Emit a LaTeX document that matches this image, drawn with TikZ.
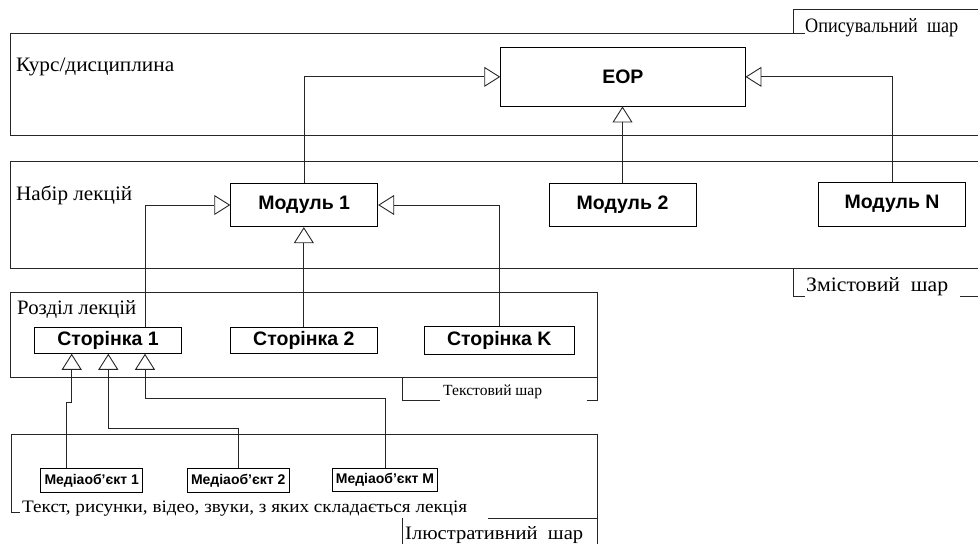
\documentclass[tikz,border=0pt]{standalone}
\usepackage{graphicx}
\usepackage{fontspec}
\setmainfont{Liberation Serif}
\newfontfamily\boxfont{Liberation Sans}
\usetikzlibrary{arrows.meta}
\newcommand{\fitw}[2]{\resizebox{#1}{\height}{#2}}
\tikzset{
  frame/.style={draw=black!85, line width=0.9pt},
  blk/.style={draw=black, line width=0.9pt, inner sep=0pt, font=\boxfont\bfseries\fontsize{19.5}{22}\selectfont},
  medbox/.style={draw=black, line width=0.9pt, inner sep=0pt, font=\boxfont\bfseries\fontsize{14}{16}\selectfont},
  lbl/.style={inner sep=0pt, anchor=base west, font=\fontsize{20.5}{24}\selectfont},
  small/.style={inner sep=0pt, anchor=base west, font=\fontsize{15.5}{18}\selectfont},
  arr/.style={draw=black!85, line width=0.9pt, -{Triangle[open,length=16pt,width=20pt,line width=0.9pt]}},
  con/.style={draw=black!85, line width=0.9pt}
}
\begin{document}
\begin{tikzpicture}[x=1pt,y=-1pt]
\useasboundingbox (0,0) rectangle (978,544);
% layer 1
\draw[frame] (805,33) -- (10,33) -- (10,135) -- (978,135);
\draw[frame] (978,9) -- (793,9) -- (793,33);
\node[lbl] (t1) at (16,71) {\fitw{158pt}{Курс/дисциплина}};
\node[lbl] (d1) at (805,32) {\fitw{153pt}{Описувальний\ \ шар}};
% layer 2
\draw[frame] (978,161.7) -- (10,161.7) -- (10,268.3) -- (978,268.3);
\draw[frame] (793.3,268.3) -- (793.3,296) -- (805,296);
\draw[frame] (960,296) -- (978,296);
\node[lbl] (t2) at (16,200) {\fitw{116pt}{Набір лекцій}};
\node[lbl] (d2) at (806,291.7) {\fitw{142pt}{Змістовий\ \ шар}};
% layer 3
\draw[frame] (10.7,292.7) rectangle (597.7,377.7);
\draw[frame] (440,400) -- (402.3,400) -- (402.3,377.7);
\draw[frame] (586.7,400) -- (597.7,400) -- (597.7,377.7);
\node[lbl] (t3) at (17,314.3) {\fitw{119pt}{Розділ лекцій}};
\node[small] (d3) at (443,395) {\fitw{99pt}{Текстовий шар}};
% layer 4
\draw[frame] (20,512.3) -- (11,512.3) -- (11,434.3) -- (597.7,434.3) -- (597.7,544);
\draw[frame] (488,518.3) -- (597.7,518.3);
\draw[frame] (402.3,518.3) -- (402.3,544);
\node[inner sep=0pt, anchor=base west, font=\fontsize{17.5}{20}\selectfont] (t4) at (22,512) {\fitw{445pt}{Текст, рисунки, відео, звуки, з яких складається лекція}};
\node[inner sep=0pt, anchor=base west, font=\fontsize{19}{22}\selectfont] (d4) at (405,539.5) {\fitw{178pt}{Ілюстративний\ \ шар}};
% boxes
\node[blk, minimum width=244.3pt, minimum height=58.3pt] (eop) at (622.85,76.85) {ЕОР};
\node[blk, minimum width=147pt, minimum height=43.4pt] (m1) at (304.2,205) {Модуль 1};
\node[blk, minimum width=147pt, minimum height=43.4pt] (m2) at (622.5,205) {Модуль 2};
\node[blk, minimum width=147.4pt, minimum height=43.7pt] (mN) at (892,204.2) {Модуль N};
\node[blk, minimum width=147.4pt, minimum height=26pt] (s1) at (108,340.3) {Сторінка 1};
\node[blk, minimum width=147.7pt, minimum height=26pt] (s2) at (303.85,340.3) {Сторінка 2};
\node[blk, minimum width=150pt, minimum height=27.3pt] (sK) at (499.3,340.3) {Сторінка K};
\node[medbox, minimum width=102pt, minimum height=24pt] (md1) at (91.7,480.3) {Медіаоб’єкт 1};
\node[medbox, minimum width=101.7pt, minimum height=24pt] (md2) at (238.2,480.3) {Медіаоб’єкт 2};
\node[medbox, minimum width=105.4pt, minimum height=23.4pt] (mdM) at (385,480) {Медіаоб’єкт M};
% connectors
\draw[arr] (m1.north) |- (eop.west);
\draw[arr] (m2.north) -- (m2.north |- eop.south);
\draw[arr] (mN.north) |- (eop.east);
\draw[arr] ([xshift=37pt]s1.north) |- (m1.west);
\draw[arr] (s2.north) -- (s2.north |- m1.south);
\draw[arr] (sK.north) |- (m1.east);
\coordinate (j1) at (71.7,402);
\coordinate (j2) at (108.3,428.3);
\coordinate (j3) at (145,398.3);
\draw[arr] ([xshift=-25pt]md1.north) |- (j1) -- (j1 |- s1.south);
\draw[arr] (md2.north) |- (j2) -- (j2 |- s1.south);
\draw[arr] (mdM.north) |- (j3) -- (j3 |- s1.south);
\end{tikzpicture}
\end{document}
